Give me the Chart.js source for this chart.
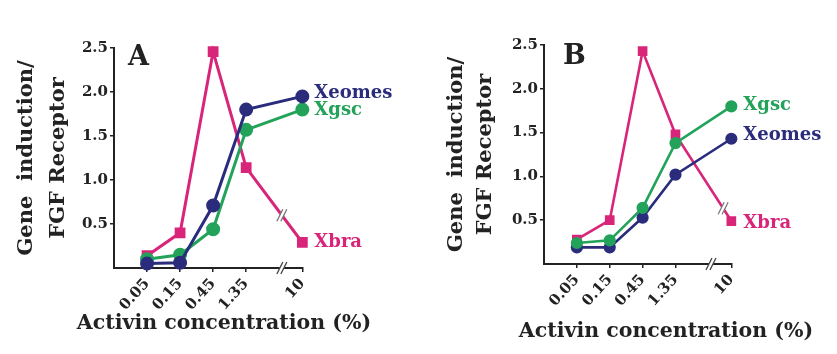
<!DOCTYPE html>
<html>
<head>
<meta charset="utf-8">
<script src="https://cdn.jsdelivr.net/npm/chart.js@4.4.1/dist/chart.umd.min.js"></script>
<style>
    html, body { margin: 0; padding: 0; background: #fff; }
    #wrap { position: relative; width: 837px; height: 354px; overflow: hidden; background: #fff; }
    #wrap canvas { position: absolute; top: 0; }
</style>
</head>
<body>
<div id="wrap">
    <canvas id="chartA" width="448" height="354" style="left:0px"></canvas>
    <canvas id="chartB" width="492" height="354" style="left:420px"></canvas>
</div>
<script>
// activin concentrations (%) on the x axis
const concLabels = ['0.05', '0.15', '0.45', '1.35', '10'];
// place of each concentration on the broken axis (gap before 10)
const concSlots = [0, 1, 2, 3, 4.7];

// panel A
const xeomesA = [0.05, 0.06, 0.71, 1.80, 1.95];
const xgscA = [0.10, 0.15, 0.44, 1.57, 1.80];
const xbraA = [0.14, 0.40, 2.46, 1.14, 0.29];

// panel B
const xgscB = [0.24, 0.27, 0.64, 1.38, 1.80];
const xeomesB = [0.19, 0.19, 0.53, 1.02, 1.43];
const xbraB = [0.28, 0.50, 2.43, 1.48, 0.49];

const navy = '#2b2c7c';
const green = '#23a35a';
const pink = '#d8257a';
const ink = '#222';
const serif = "'DejaVu Serif', serif";

Chart.defaults.font.family = serif;
Chart.defaults.font.weight = 'bold';
Chart.defaults.color = ink;

function points(vals) {
    return concSlots.map((x, i) => ({ x: x, y: vals[i] }));
}

function lineSet(label, vals, color, square, big, dy) {
    return {
        label: label,
        data: points(vals),
        borderColor: color,
        backgroundColor: color,
        borderWidth: big ? 3 : 2.6,
        pointStyle: square ? 'rect' : 'circle',
        pointRadius: square ? (big ? 5.5 : 5) : (big ? 5.5 : 4.8),
        tension: 0,
        clip: false,
        labelDy: dy
    };
}

function drawSlash(ctx, x, y, color) {
    ctx.save();
    ctx.strokeStyle = '#fff';
    ctx.lineWidth = 4;
    ctx.beginPath();
    ctx.moveTo(x - 3, y + 6);
    ctx.lineTo(x + 3, y - 6);
    ctx.stroke();
    ctx.strokeStyle = color;
    ctx.lineWidth = 1.3;
    [-2, 2].forEach(d => {
        ctx.beginPath();
        ctx.moveTo(x + d - 3, y + 6);
        ctx.lineTo(x + d + 3, y - 6);
        ctx.stroke();
    });
    ctx.restore();
}

// panel letter, end-of-line names and the axis breaks
const panelMarks = {
    id: 'panelMarks',
    afterDatasetsDraw(chart, args, opts) {
        const ctx = chart.ctx;
        const area = chart.chartArea;
        const xs = chart.scales.x;
        ctx.save();
        ctx.fillStyle = ink;
        ctx.font = 'bold 27px ' + serif;
        ctx.textBaseline = 'top';
        ctx.textAlign = 'left';
        ctx.fillText(opts.letter, area.left + opts.letterDx, opts.letterTop);

        ctx.font = 'bold 18px ' + serif;
        ctx.textBaseline = 'middle';
        chart.data.datasets.forEach((ds, i) => {
            const pts = chart.getDatasetMeta(i).data;
            const last = pts[pts.length - 1];
            ctx.fillStyle = ds.borderColor;
            ctx.fillText(ds.label, last.x + 12, last.y + ds.labelDy);
        });
        ctx.restore();

        drawSlash(ctx, xs.getPixelForValue(opts.axisBreakAt), area.bottom, '#444');

        const braIdx = chart.data.datasets.findIndex(ds => ds.label === 'Xbra');
        const bp = chart.getDatasetMeta(braIdx).data;
        const a = bp[bp.length - 2], b = bp[bp.length - 1];
        const bx = xs.getPixelForValue(opts.lineBreakAt);
        const t = (bx - a.x) / (b.x - a.x);
        drawSlash(ctx, bx, a.y + t * (b.y - a.y), '#777');
    }
};

function makePanel(id, sets, p) {
    return new Chart(document.getElementById(id), {
        type: 'line',
        data: { datasets: sets },
        plugins: [panelMarks],
        options: {
            responsive: false,
            animation: false,
            events: [],
            layout: { padding: { top: p.top, left: 0, right: 0, bottom: 0 } },
            plugins: {
                legend: { display: false },
                tooltip: { enabled: false },
                title: {
                    display: true,
                    position: 'bottom',
                    text: 'Activin concentration (%)',
                    color: ink,
                    font: { size: 20.5, weight: 'bold', lineHeight: 1.2 },
                    padding: { top: 0, bottom: p.titlePadBottom }
                },
                panelMarks: {
                    letter: p.letter,
                    letterDx: p.letterDx,
                    letterTop: p.letterTop,
                    axisBreakAt: 4.08,
                    lineBreakAt: p.lineBreakAt
                }
            },
            scales: {
                x: {
                    type: 'linear',
                    min: -1,
                    max: 4.72,
                    border: { display: true, color: ink, width: 2 },
                    grid: { drawOnChartArea: false, drawTicks: true, tickLength: 4, color: ink, lineWidth: 1.5 },
                    afterBuildTicks: s => { s.ticks = concSlots.map(v => ({ value: v })); },
                    ticks: {
                        autoSkip: false,
                        minRotation: 48,
                        maxRotation: 48,
                        padding: 3,
                        color: ink,
                        font: { size: 15, weight: 'bold' },
                        callback: (v, i) => concLabels[i]
                    },
                    afterFit: s => { s.height = p.xHeight; }
                },
                y: {
                    type: 'linear',
                    position: 'left',
                    min: 0,
                    max: 2.5,
                    border: { display: true, color: ink, width: 2 },
                    grid: { drawOnChartArea: false, drawTicks: true, tickLength: 4, color: ink, lineWidth: 1.5 },
                    afterBuildTicks: s => { s.ticks = s.ticks.filter(t => t.value > 0); },
                    ticks: {
                        stepSize: 0.5,
                        padding: 2,
                        color: ink,
                        font: { size: 15, weight: 'bold' },
                        callback: v => v.toFixed(1)
                    },
                    title: {
                        display: true,
                        text: ['Gene  induction/', 'FGF Receptor'],
                        color: ink,
                        font: { size: 21, weight: 'bold', lineHeight: p.yTitleLine / 21 },
                        padding: { top: p.yTitlePad, bottom: 0 }
                    },
                    afterFit: s => { s.width = p.yWidth; }
                },
                // empty right-hand band, keeps the x title centred as in the figure
                gap: {
                    type: 'linear',
                    position: 'right',
                    display: true,
                    border: { display: false },
                    grid: { display: false },
                    ticks: { display: false },
                    afterFit: s => { s.width = p.gapWidth; }
                }
            }
        }
    });
}

makePanel('chartA', [
    lineSet('Xeomes', xeomesA, navy, false, true, -3),
    lineSet('Xgsc', xgscA, green, false, true, 1),
    lineSet('Xbra', xbraA, pink, true, true, 0)
], {
    letter: 'A', letterDx: 14, letterTop: 44, top: 48,
    yWidth: 114, yTitlePad: 11, yTitleLine: 32,
    xHeight: 43.4, titlePadBottom: 18, gapWidth: 145, lineBreakAt: 4.08
});

makePanel('chartB', [
    lineSet('Xgsc', xgscB, green, false, false, -1),
    lineSet('Xeomes', xeomesB, navy, false, false, -3),
    lineSet('Xbra', xbraB, pink, true, false, 2)
], {
    letter: 'B', letterDx: 19, letterTop: 43, top: 45,
    yWidth: 124, yTitlePad: 22.5, yTitleLine: 29,
    xHeight: 55.7, titlePadBottom: 9.7, gapWidth: 180, lineBreakAt: 4.45
});
</script>
</body>
</html>
